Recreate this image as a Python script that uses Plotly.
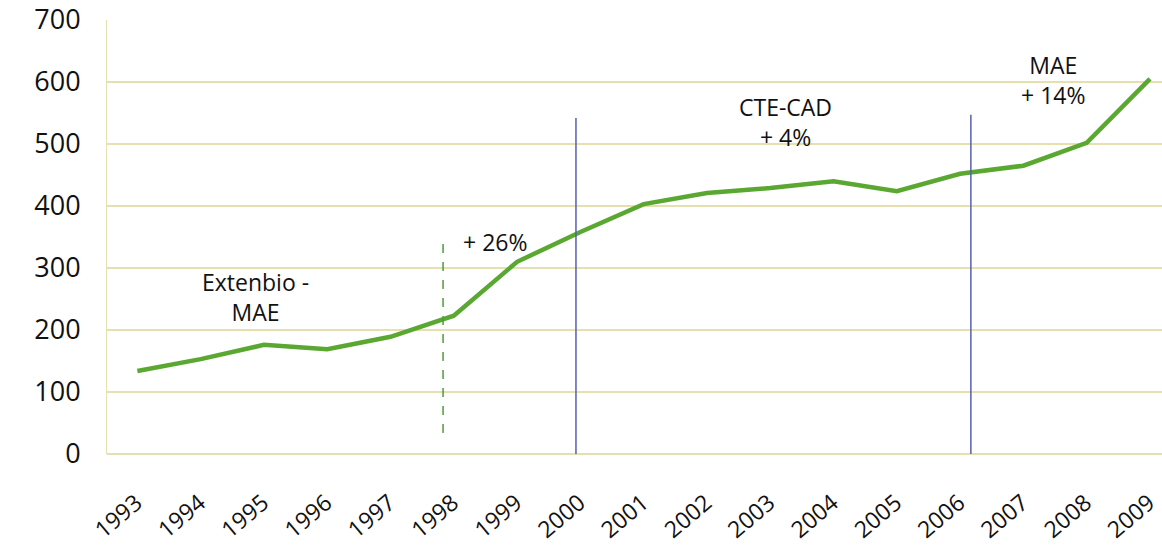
import plotly.graph_objects as go

# data
YEARS = list(range(1993, 2010))
VALUES = [134, 153, 176, 169, 189, 223, 310, 358, 403, 421, 429, 440, 424, 452, 465, 502, 605]
Y_TICKS = [0, 100, 200, 300, 400, 500, 600, 700]

# period markers: (x, y0, y1, colour, dash)
MARKERS = [
    (1997.83, 34, 348, '#4f9a3a', 'dash'),
    (1999.93, 0, 542, '#5560b0', 'solid'),
    (2006.17, 0, 547, '#5560b0', 'solid'),
]

# period labels: (x, y, text)
LABELS = [
    (1994.86, 253, 'Extenbio -<br>MAE'),
    (1998.65, 342, '+ 26%'),
    (2003.24, 535, 'CTE-CAD<br>+ 4%'),
    (2007.47, 603, 'MAE<br>+ 14%'),
]

GRID = '#e6dfae'

fig = go.Figure()

fig.add_trace(go.Scatter(
    x=YEARS, y=VALUES,
    mode='lines',
    line=dict(color='#5aa832', width=4.5),
    showlegend=False,
    hoverinfo='skip'
))

for x, y0, y1, color, dash in MARKERS:
    fig.add_shape(type='line', x0=x, x1=x, y0=y0, y1=y1, xref='x', yref='y',
                  line=dict(color=color, width=1.5, dash=dash))

for x, y, text in LABELS:
    fig.add_annotation(x=x, y=y, text=text, showarrow=False,
                       font=dict(family='Open Sans', size=23, color='#111111'))

# full window size; the page's default body margin is removed below
fig.update_layout(
    width=1162, height=558,
    margin=dict(l=107, r=0, t=20, b=104),
    plot_bgcolor='white',
    paper_bgcolor='white',
    font=dict(family='Open Sans', color='#111111'),
    xaxis=dict(
        range=[1992.52, 2009.19],
        tickmode='array', tickvals=YEARS, ticktext=[str(y) for y in YEARS],
        tickangle=-40,
        tickfont=dict(size=23),
        ticklabelstandoff=30,
        ticklabelshift=-1,
        ticklabeloverflow='allow',
        showgrid=False, zeroline=False,
        showline=False,
        automargin=False,
    ),
    yaxis=dict(
        range=[0, 700],
        tickmode='array', tickvals=Y_TICKS,
        tickfont=dict(size=27),
        ticklabelstandoff=20,
        ticklabeloverflow='allow',
        showgrid=True, gridcolor=GRID, gridwidth=1.5,
        zeroline=True, zerolinecolor=GRID, zerolinewidth=1.5,
        showline=True, linecolor=GRID, linewidth=1,
        automargin=False,
    ),
)

fig.write_html("out.html", config=dict(displayModeBar=False),
               post_script="document.body.style.margin='0';")
